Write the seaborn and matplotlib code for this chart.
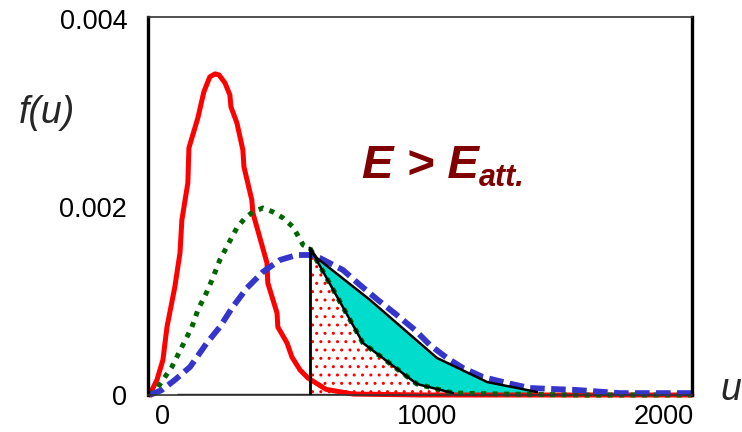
import numpy as np
import matplotlib
matplotlib.use("Agg")
import matplotlib.pyplot as plt
from matplotlib.transforms import ScaledTranslation
import seaborn as sns

red_u = [0, 4, 26, 48, 63, 92, 111, 118, 140, 144, 177, 199, 221, 240, 255, 277, 295,
         299, 321, 343, 347, 376, 380, 432, 435, 469, 472, 506, 524, 554, 583, 650,
         750, 1000, 1500, 2000]
red_f = [0, 0.000032, 0.000160, 0.000372, 0.000723, 0.001149, 0.001511, 0.001862,
         0.002255, 0.002628, 0.002947, 0.003223, 0.003383, 0.003415, 0.003404,
         0.003319, 0.003191, 0.003064, 0.002894, 0.002606, 0.002426, 0.002074,
         0.001936, 0.001404, 0.001191, 0.000872, 0.000723, 0.000553, 0.000404,
         0.000266, 0.000181, 0.00006, 0.00001, 0, 0, 0]

green_u = [0, 30, 81, 118, 155, 177, 210, 229, 258, 303, 321, 351, 380, 417, 454, 491,
           528, 565, 590, 786, 985, 1118, 1300, 1600, 2000]
green_f = [0, 0.000085, 0.000298, 0.000511, 0.000723, 0.000904, 0.001096, 0.001223,
           0.001436, 0.001681, 0.001777, 0.001883, 0.001947, 0.001989, 0.001947,
           0.001883, 0.001787, 0.001596, 0.001564, 0.000553, 0.000117, 0.000021,
           0.00001, 0, 0]

blue_u = [0, 44, 92, 148, 210, 258, 303, 358, 417, 480, 542, 590, 627, 712, 775, 841,
          911, 978, 1033, 1096, 1155, 1229, 1317, 1402, 1576, 1734, 2000]
blue_f = [0, 0.000053, 0.000160, 0.000298, 0.000553, 0.000723, 0.000926, 0.001138,
          0.001309, 0.001436, 0.001489, 0.001489, 0.001457, 0.001330, 0.001170,
          0.001011, 0.000851, 0.000691, 0.000532, 0.000394, 0.000287, 0.000191,
          0.000128, 0.000074, 0.000053, 0.00002, 0.00002]

# Activation threshold and the shaded regions beyond it
u_att = 590
low_u = [590, 786, 985, 1118, 1428]
low_f = [0.001564, 0.000553, 0.000117, 0.000021, 0.000021]
edge_u = [590, 616, 812, 1059, 1244, 1428]
edge_f = [0.001564, 0.001457, 0.001011, 0.000394, 0.000138, 0.000032]

x_ticks = [0, 1000, 2000]
x_labels = ["0", "1000", "2000"]
y_ticks = [0, 0.002, 0.004]
y_labels = ["0", "0.002", "0.004"]

sns.set_style("white")
plt.rcParams["font.family"] = ["Liberation Sans", "DejaVu Sans"]
plt.rcParams["hatch.linewidth"] = 1.0

W, H = 742, 432
fig = plt.figure(figsize=(W / 100, H / 100), dpi=100)
ax = fig.add_axes([148 / W, 37 / H, 544 / W, 378 / H])

# dotted region: fraction under the cooler curve above the threshold
hx = [u_att] + low_u[:-1] + [1180]
hy = [0] + low_f[:-1] + [0]
ax.fill(hx, hy, facecolor="white", edgecolor="red", hatch="..", linewidth=0, zorder=1.5)

# cyan band: extra fraction at the hotter temperature
cx = edge_u + low_u[::-1]
cy = edge_f + low_f[::-1]
ax.fill(cx, cy, facecolor="#00DDCC", edgecolor="none", zorder=1.6)

# base of the shaded regions
ax.plot([100, 1428], [0, 0], color="black", lw=2.4, zorder=1.7, solid_capstyle="butt")

sns.lineplot(x=red_u, y=red_f, ax=ax, color="#FF0000", linewidth=3.6, sort=False,
             zorder=2, clip_on=False)
sns.lineplot(x=green_u, y=green_f, ax=ax, color="#006600", linewidth=3.6, sort=False,
             linestyle=(0, (1.0, 1.3)), zorder=2.1, clip_on=False)
sns.lineplot(x=blue_u, y=blue_f, ax=ax, color="#3535CC", linewidth=4.2, sort=False,
             linestyle=(0, (2.5, 1.1)), zorder=2.2, clip_on=False)

# outlines of the shaded regions
ax.plot(edge_u, edge_f, color="black", lw=1.8, zorder=3)
ax.plot(low_u[:-1], low_f[:-1], color="black", lw=1.8, zorder=3)
ax.plot([u_att, u_att], [0, low_f[0]], color="black", lw=2.0, zorder=3)

ax.set_xlim(-7, 2000)
ax.set_ylim(0, 0.00402)
ax.set_xlabel("")
ax.set_ylabel("")

ax.set_xticks(x_ticks)
ax.set_xticklabels(x_labels)
ax.set_yticks(y_ticks)
ax.set_yticklabels(y_labels)
ax.tick_params(axis="both", length=0, labelsize=19.5, colors="black")
ax.tick_params(axis="x", pad=6.5)
ax.tick_params(axis="y", pad=15)

for side in ("left", "right"):
    ax.spines[side].set_linewidth(2.4)
    ax.spines[side].set_color("black")
for side in ("top", "bottom"):
    ax.spines[side].set_linewidth(1.2)
    ax.spines[side].set_color("#333333")
ax.grid(False)

for lbl, dx in zip(ax.get_xticklabels(), [13, 6, -28]):
    lbl.set_transform(lbl.get_transform() + ScaledTranslation(dx / 100, 0, fig.dpi_scale_trans))

fig.text(47 / W, 1 - 113 / H, "f(u)", fontsize=27, style="italic", ha="center", va="center")
fig.text(731 / W, 1 - 390 / H, "u", fontsize=27, style="italic", ha="center", va="center")
fig.text(362 / W, 1 - 178 / H, "E > E", fontsize=34, style="italic", weight="bold",
         color="#800000", ha="left", va="baseline")
fig.text(479 / W, 1 - 186 / H, "att.", fontsize=22, style="italic", weight="bold",
         color="#800000", ha="left", va="baseline")

fig.savefig("out.png", dpi=100)
